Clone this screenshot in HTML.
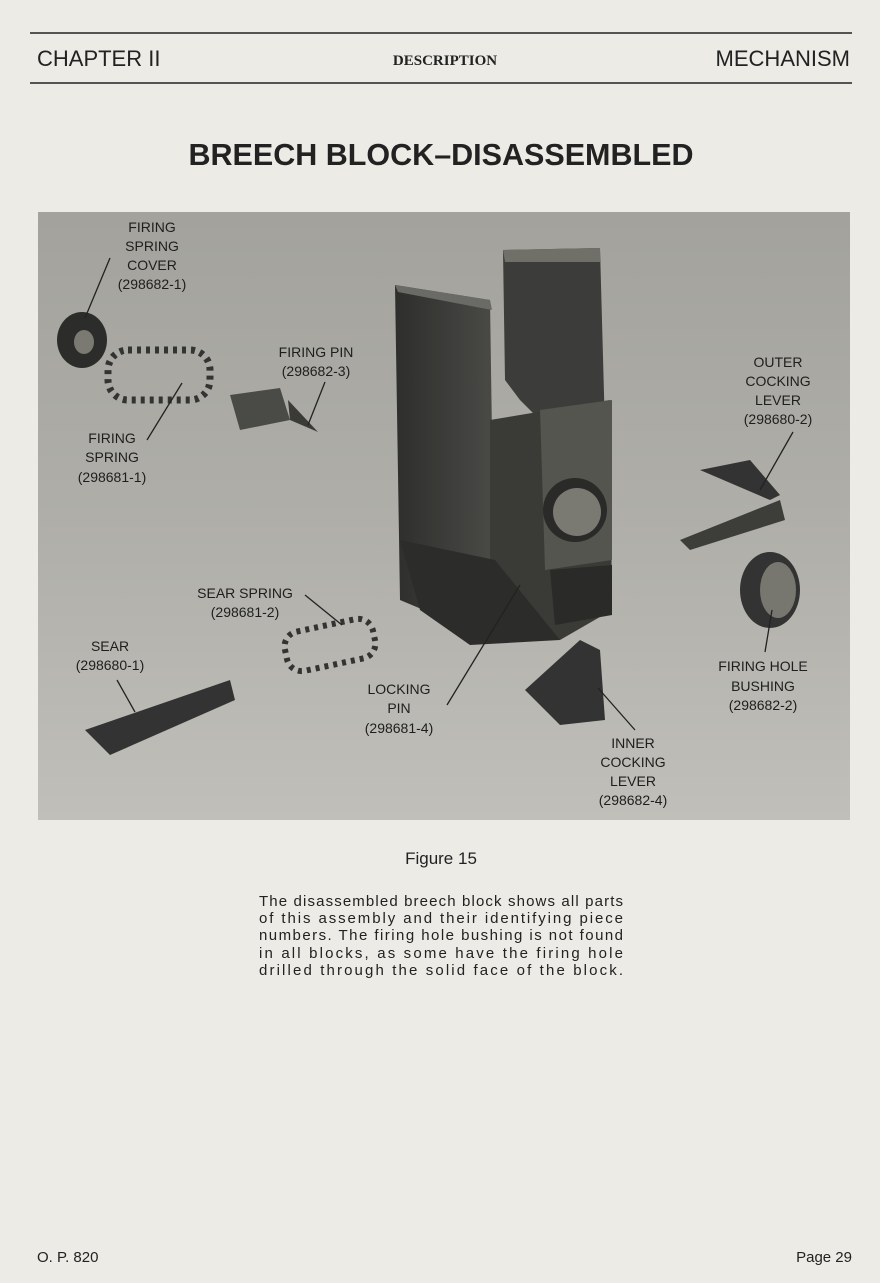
<!DOCTYPE html>
<html><head><meta charset="utf-8"><style>
html,body{margin:0;padding:0;background:#ecebe6;}
svg{display:block}
</style></head><body>
<svg width="880" height="1283" viewBox="0 0 880 1283" xmlns="http://www.w3.org/2000/svg" font-family="Liberation Sans, sans-serif">
<defs>
<linearGradient id="bg" x1="0" y1="0" x2="0" y2="1">
<stop offset="0" stop-color="#a3a29c"/><stop offset="0.5" stop-color="#afaea8"/><stop offset="1" stop-color="#c0bfb9"/>
</linearGradient>
<linearGradient id="arm" x1="0" y1="0" x2="1" y2="0">
<stop offset="0" stop-color="#2e2e2c"/><stop offset="1" stop-color="#4a4a47"/>
</linearGradient>
</defs>
<rect width="880" height="1283" fill="#ecebe6"/>
<line x1="30" y1="33" x2="852" y2="33" stroke="#222" stroke-width="1.5"/>
<line x1="30" y1="83" x2="852" y2="83" stroke="#222" stroke-width="1.5"/>
<text x="37" y="66" font-size="22" fill="#222">CHAPTER II</text>
<text x="445" y="65" font-size="15" font-weight="bold" font-family="Liberation Serif, serif" text-anchor="middle" fill="#222">DESCRIPTION</text>
<text x="850" y="66" font-size="22" text-anchor="end" fill="#222">MECHANISM</text>
<text x="441" y="165" font-size="30.5" font-weight="bold" text-anchor="middle" fill="#222">BREECH BLOCK–DISASSEMBLED</text>

<rect x="38" y="212" width="812" height="608" fill="url(#bg)"/>
<polygon points="395,285 490,300 495,640 400,600" fill="url(#arm)"/>
<polygon points="395,285 490,300 492,310 398,292" fill="#6a6a66"/>
<polygon points="503,250 600,248 605,430 560,440 520,400 505,380" fill="#3c3c3a"/>
<polygon points="503,250 600,248 600,262 505,262" fill="#707069"/>
<polygon points="490,420 610,400 612,610 560,640 490,640" fill="#3a3a37"/>
<polygon points="540,410 612,400 612,560 545,570" fill="#55554f"/>
<circle cx="575" cy="510" r="32" fill="#2a2a28"/>
<circle cx="577" cy="512" r="24" fill="#7a7a73"/>
<polygon points="400,540 495,560 560,640 470,645 420,610" fill="#2c2c2a"/>
<polygon points="550,570 612,565 612,615 555,625" fill="#2a2a28"/>
<ellipse cx="82" cy="340" rx="25" ry="28" fill="#2c2c2a"/>
<ellipse cx="84" cy="342" rx="10" ry="12" fill="#7a7a73"/>
<rect x="108" y="350" width="102" height="50" rx="20" fill="none" stroke="#333" stroke-width="7" stroke-dasharray="4 5"/>
<polygon points="230,395 280,388 290,420 240,430" fill="#4a4a46"/>
<polygon points="288,400 318,432 290,420" fill="#3a3a37"/>
<rect x="285" y="625" width="90" height="40" rx="15" fill="none" stroke="#333" stroke-width="6" stroke-dasharray="4 5" transform="rotate(-12 330 645)"/>
<polygon points="85,730 230,680 235,700 110,755" fill="#333"/>
<polygon points="700,470 750,460 780,495 770,500" fill="#333"/>
<polygon points="680,540 780,500 785,520 690,550" fill="#3d3d3a"/>
<ellipse cx="770" cy="590" rx="30" ry="38" fill="#333"/>
<ellipse cx="778" cy="590" rx="18" ry="28" fill="#77776f"/>
<polygon points="525,690 580,640 600,650 605,720 560,725" fill="#333"/>
<g stroke="#222" stroke-width="1.3">
<line x1="110" y1="258" x2="85" y2="318"/>
<line x1="147" y1="440" x2="182" y2="383"/>
<line x1="325" y1="382" x2="308" y2="425"/>
<line x1="793" y1="432" x2="760" y2="490"/>
<line x1="305" y1="595" x2="342" y2="625"/>
<line x1="117" y1="680" x2="135" y2="712"/>
<line x1="447" y1="705" x2="520" y2="585"/>
<line x1="635" y1="730" x2="598" y2="688"/>
<line x1="765" y1="652" x2="772" y2="610"/>
</g>
<g font-size="14" fill="#1e1e1e" text-anchor="middle">
<text x="152" y="232">FIRING</text><text x="152" y="251">SPRING</text><text x="152" y="270">COVER</text><text x="152" y="289">(298682-1)</text>
<text x="316" y="357">FIRING PIN</text><text x="316" y="376">(298682-3)</text>
<text x="112" y="443">FIRING</text><text x="112" y="462">SPRING</text><text x="112" y="482">(298681-1)</text>
<text x="778" y="367">OUTER</text><text x="778" y="386">COCKING</text><text x="778" y="405">LEVER</text><text x="778" y="424">(298680-2)</text>
<text x="245" y="598">SEAR SPRING</text><text x="245" y="617">(298681-2)</text>
<text x="110" y="651">SEAR</text><text x="110" y="670">(298680-1)</text>
<text x="399" y="694">LOCKING</text><text x="399" y="713">PIN</text><text x="399" y="733">(298681-4)</text>
<text x="763" y="671">FIRING HOLE</text><text x="763" y="691">BUSHING</text><text x="763" y="710">(298682-2)</text>
<text x="633" y="748">INNER</text><text x="633" y="767">COCKING</text><text x="633" y="786">LEVER</text><text x="633" y="805">(298682-4)</text>
</g>
<text x="441" y="864" font-size="17" text-anchor="middle" fill="#222">Figure 15</text>
<g font-size="15" fill="#222">
<text x="259" y="906" textLength="364" lengthAdjust="spacing">The disassembled breech block shows all parts</text>
<text x="259" y="923" textLength="364" lengthAdjust="spacing">of this assembly and their identifying piece</text>
<text x="259" y="940" textLength="364" lengthAdjust="spacing">numbers. The firing hole bushing is not found</text>
<text x="259" y="958" textLength="364" lengthAdjust="spacing">in all blocks, as some have the firing hole</text>
<text x="259" y="975" textLength="364" lengthAdjust="spacing">drilled through the solid face of the block.</text>
</g>
<text x="37" y="1262" font-size="15" fill="#222">O. P. 820</text>
<text x="852" y="1262" font-size="15" text-anchor="end" fill="#222">Page 29</text>
</svg>
</body></html>
